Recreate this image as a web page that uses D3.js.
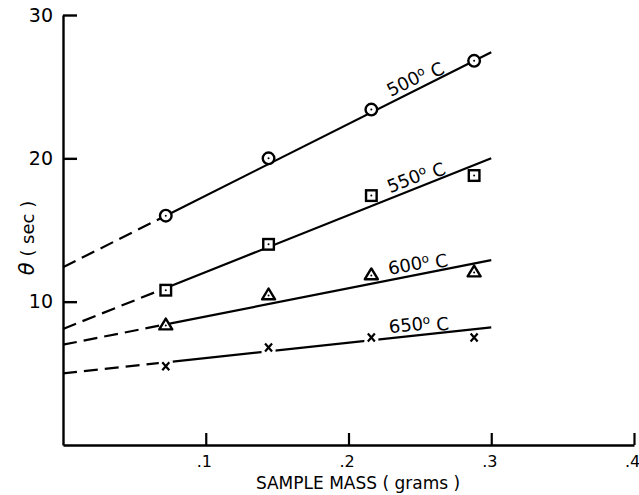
<!DOCTYPE html>
<html>
<head>
<meta charset="utf-8">
<script src="https://cdn.jsdelivr.net/npm/d3@7"></script>
<style>
  html, body { margin: 0; padding: 0; background: #fff; }
  svg { display: block; }
  text { font-family: "DejaVu Sans", sans-serif; fill: #000; }
</style>
</head>
<body>
<svg id="chart" width="639" height="495"></svg>
<script>
// ---- data ----
const sampleMass = [0.072, 0.144, 0.216, 0.288];
const theta500 = [16.0, 20.0, 23.4, 26.8];
const theta550 = [10.8, 14.0, 17.4, 18.8];
const theta600 = [8.4, 10.5, 11.9, 12.1];
const theta650 = [5.5, 6.8, 7.5, 7.5];
const seriesLabels = ["500", "550", "600", "650"];
const seriesMarkers = ["circle", "square", "triangle", "cross"];
// fitted lines: value at zero mass, value at 0.3 g
const fitAtZero = [12.4, 8.1, 7.0, 5.0];
const fitAtEnd = [27.4, 20.0, 12.9, 8.2];
const fitEndMass = 0.3;
const xTickValues = [0.1, 0.2, 0.3, 0.4];
const xTickLabels = [".1", ".2", ".3", ".4"];
const yTickValues = [10, 20, 30];
const yTickLabels = ["10", "20", "30"];

const seriesValues = [theta500, theta550, theta600, theta650];

// ---- layout ----
const svg = d3.select("#chart");
const x = d3.scaleLinear().domain([0, 0.4]).range([63, 634]);
const y = d3.scaleLinear().domain([0, 30]).range([445, 15]);

// axes
const yAxis = d3.axisLeft(y)
  .tickValues(yTickValues)
  .tickFormat((d, i) => yTickLabels[i])
  .tickSizeInner(-14).tickSizeOuter(0).tickPadding(10);
const gy = svg.append("g").attr("transform", `translate(${x(0)},0)`).call(yAxis);
gy.select(".domain").attr("stroke", "#000").attr("stroke-width", 2.4);
gy.selectAll(".tick line").attr("stroke", "#000").attr("stroke-width", 2.4);
gy.selectAll(".tick text").style("font-size", "19px").attr("fill", "#000");

const xAxis = d3.axisBottom(x)
  .tickValues(xTickValues)
  .tickFormat((d, i) => xTickLabels[i])
  .tickSizeInner(-12).tickSizeOuter(0).tickPadding(11);
const gx = svg.append("g").attr("transform", `translate(0,${y(0)})`).call(xAxis);
gx.select(".domain").attr("stroke", "#000").attr("stroke-width", 2.4);
gx.selectAll(".tick line").attr("stroke", "#000").attr("stroke-width", 2.2);
gx.selectAll(".tick text").style("font-size", "16px").attr("fill", "#000").attr("dx", "-2");

// axis titles
svg.append("text")
  .attr("x", 358).attr("y", 489)
  .attr("text-anchor", "middle")
  .style("font-size", "17px")
  .text("SAMPLE MASS ( grams )");

const yt = svg.append("text")
  .attr("transform", "translate(34,238) rotate(-90)")
  .attr("text-anchor", "middle")
  .style("font-size", "18px");
yt.append("tspan").style("font-style", "italic").style("font-size", "21px").text("θ");
yt.append("tspan").text(" ( sec )");

// fit lines
const lineG = svg.append("g");
seriesValues.forEach((vals, i) => {
  const x0 = 0, x1 = sampleMass[0], x2 = fitEndMass;
  const slope = (fitAtEnd[i] - fitAtZero[i]) / fitEndMass;
  const f = m => fitAtZero[i] + slope * m;
  lineG.append("line")
    .attr("x1", x(x0)).attr("y1", y(f(x0)))
    .attr("x2", x(x1)).attr("y2", y(f(x1)))
    .attr("stroke", "#000").attr("stroke-width", 2.2)
    .attr("stroke-dasharray", "14,7");
  lineG.append("line")
    .attr("x1", x(x1)).attr("y1", y(f(x1)))
    .attr("x2", x(x2)).attr("y2", y(f(x2)))
    .attr("stroke", "#000").attr("stroke-width", 2.2);

  // label along line
  const lm = 0.25;
  const ang = Math.atan2(y(f(lm + 0.01)) - y(f(lm)), x(lm + 0.01) - x(lm)) * 180 / Math.PI;
  const rad = ang * Math.PI / 180;
  const off = 5;
  const lx = x(lm) + Math.sin(rad) * off;
  const ly = y(f(lm)) - Math.cos(rad) * off;
  const t = svg.append("text")
    .attr("transform", `translate(${lx},${ly}) rotate(${ang})`)
    .attr("text-anchor", "middle")
    .style("font-size", "18px");
  t.append("tspan").text(seriesLabels[i]);
  t.append("tspan").attr("dy", "-0.45em").style("font-size", "12px").text("o");
  t.append("tspan").attr("dy", "0.45em").text(" C");
});

// markers
const markG = svg.append("g");
seriesValues.forEach((vals, i) => {
  vals.forEach((v, j) => {
    const cx = x(sampleMass[j]), cy = y(v);
    const g = markG.append("g").attr("transform", `translate(${cx},${cy})`);
    const type = seriesMarkers[i];
    if (type === "circle") {
      g.append("circle").attr("r", 5.8).attr("fill", "#fff").attr("stroke", "#000").attr("stroke-width", 2.4);
    } else if (type === "square") {
      g.append("rect").attr("x", -5.3).attr("y", -5.3).attr("width", 10.6).attr("height", 10.6)
        .attr("fill", "#fff").attr("stroke", "#000").attr("stroke-width", 2.4);
    } else if (type === "triangle") {
      g.append("path").attr("d", "M0,-6 L6.5,4.8 L-6.5,4.8 Z")
        .attr("fill", "#fff").attr("stroke", "#000").attr("stroke-width", 2.4).attr("stroke-linejoin", "round");
    } else {
      g.append("rect").attr("x", -7).attr("y", -6).attr("width", 14).attr("height", 12).attr("fill", "#fff");
      g.append("path").attr("d", "M-3.5,-4 L3.5,4 M3.5,-4 L-3.5,4")
        .attr("stroke", "#000").attr("stroke-width", 2.2);
    }
    if (type !== "cross") {
      g.append("circle").attr("r", 1).attr("fill", "#000").attr("cy", type === "triangle" ? 1 : 0);
    }
  });
});
</script>
</body>
</html>
